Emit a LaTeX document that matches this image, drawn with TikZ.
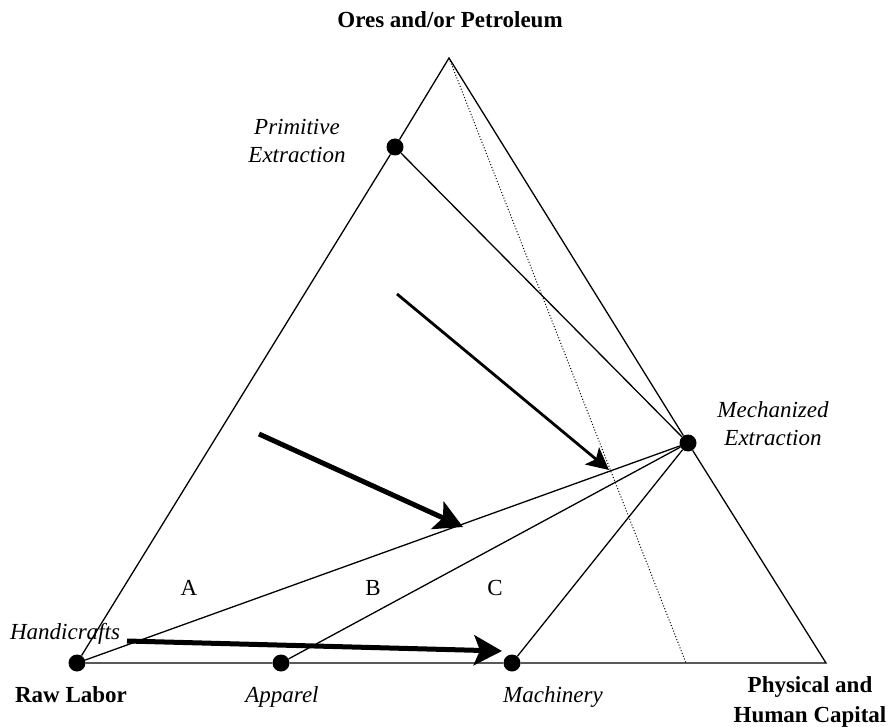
\documentclass[tikz,border=0pt]{standalone}
\usepackage{fontspec}
\setmainfont{Liberation Serif}
\usetikzlibrary{arrows.meta}

\tikzset{
  dot/.style={circle,fill=black,inner sep=0pt,minimum size=17pt},
  lbl/.style={inner sep=0pt,font=\fontsize{23}{28}\selectfont,align=center},
  thin line/.style={line width=1.3pt},
  big arrow/.style={line width=5pt,-{Stealth[length=28pt,width=30pt,inset=6pt]}},
}

\begin{document}
\begin{tikzpicture}[x=1pt,y=1pt,yscale=-1,xscale=1]
\useasboundingbox (0,0) rectangle (889,727);

% Corners and points
\coordinate (top) at (449,58);
\coordinate (right) at (826,663);
\coordinate (dotend) at (686,663);
\node [dot] (raw) at (77,663) {};
\node [dot] (prim) at (395,147) {};
\node [dot] (mech) at (688,443) {};
\node [dot] (app) at (281,663) {};
\node [dot] (mach) at (512,663) {};

%Triangle
\draw [thin line] (raw) -- (prim) -- (top) -- (mech) -- (right) -- (mach) -- (app) -- (raw);
%Dotted Line
\draw [line width=1pt,dotted] (top) -- (dotend);

%Straight Lines
\draw [thin line] (prim) -- (mech);
\draw [thin line] (mech) -- (raw);
\draw [thin line] (mech) -- (app);
\draw [thin line] (mech) -- (mach);

%Arrows
\coordinate (a1s) at (259,434);
\coordinate (a1e) at (463,527);
\draw [big arrow] (a1s) -- (a1e);
\coordinate (a2s) at (397,294);
\coordinate (a2e) at (609,470);
\draw [line width=2.8pt,-{Stealth[length=22pt,width=22pt,inset=5pt]}] (a2s) -- (a2e);
\coordinate (a3s) at (127,641);
\coordinate (a3e) at (502,651);
\draw [big arrow] (a3s) -- (a3e);

% Text Node
\node [lbl,font=\fontsize{23}{28}\selectfont\bfseries] (ores) at (450,20) {Ores and/or Petroleum};
% Text Node
\node [lbl,font=\fontsize{23}{28}\selectfont\itshape] (primlbl) at (297,141) {Primitive\\Extraction};
% Text Node
\node [lbl,font=\fontsize{23}{28}\selectfont\itshape] (mechlbl) at (773,424) {Mechanized\\Extraction};
% Text Node
\node [lbl,font=\fontsize{23}{28}\selectfont\itshape] (handlbl) at (65,634) {Handicrafts};
% Text Node
\node [lbl,font=\fontsize{23}{28}\selectfont\bfseries] (rawlbl) at (71,695) {Raw Labor};
% Text Node
\node [lbl,font=\fontsize{23}{28}\selectfont\itshape] (applbl) at (282,697) {Apparel};
% Text Node
\node [lbl,font=\fontsize{23}{28}\selectfont\itshape] (machlbl) at (553,697) {Machinery};
% Text Node
\node [lbl,font=\fontsize{23}{30}\selectfont\bfseries] (caplbl) at (810,702) {Physical and\\Human Capital};
% Text Node
\node [lbl] (la) at (189,588) {A};
% Text Node
\node [lbl] (lb) at (373,588) {B};
% Text Node
\node [lbl] (lc) at (495,588) {C};

\end{tikzpicture}
\end{document}
